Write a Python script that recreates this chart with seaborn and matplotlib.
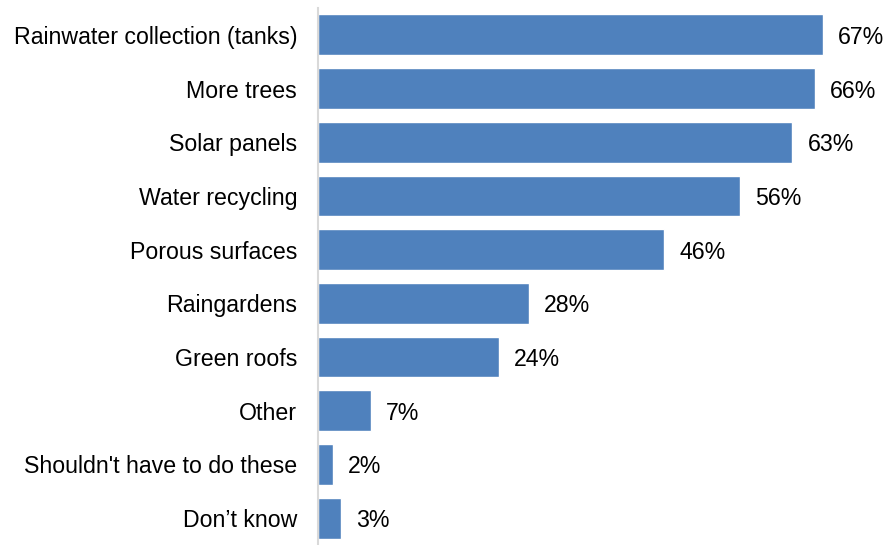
import matplotlib
matplotlib.use("Agg")
import matplotlib.pyplot as plt
import seaborn as sns
import pandas as pd

categories = [
    "Rainwater collection (tanks)",
    "More trees",
    "Solar panels",
    "Water recycling",
    "Porous surfaces",
    "Raingardens",
    "Green roofs",
    "Other",
    "Shouldn't have to do these",
    "Don\u2019t know",
]
percent = [67, 66, 63, 56, 46, 28, 24, 7, 2, 3]

df = pd.DataFrame({"measure": categories, "pct": percent})

sns.set_theme(style="white")
plt.rcParams["font.family"] = ["Liberation Sans", "DejaVu Sans"]

fig = plt.figure(figsize=(8.85, 5.45), dpi=100)
ax = fig.add_axes([318 / 885, 0, (885 - 318) / 885, 537 / 545])

sns.barplot(data=df, y="measure", x="pct", orient="h", color="#4F81BD",
            saturation=1, width=0.76, ax=ax)

for cont in ax.containers:
    texts = ax.bar_label(cont, labels=[f"{v}%" for v in percent], padding=11,
                         fontsize=16.7, color="black")
    for t in texts:
        t.set_va("center_baseline")

ax.set_xlim(0, 75.3)
ax.set_ylim(len(categories) - 0.5, -0.5)
ax.set_xlabel("")
ax.set_ylabel("")
ax.set_xticks([])
ax.tick_params(axis="y", length=0, pad=15, labelsize=16.7, labelcolor="black")
for lbl in ax.get_yticklabels():
    lbl.set_va("center_baseline")
for side in ["top", "right", "bottom"]:
    ax.spines[side].set_visible(False)
ax.spines["left"].set_color("#D9D9D9")
ax.spines["left"].set_linewidth(1.5)

fig.savefig("out.png", dpi=100)
